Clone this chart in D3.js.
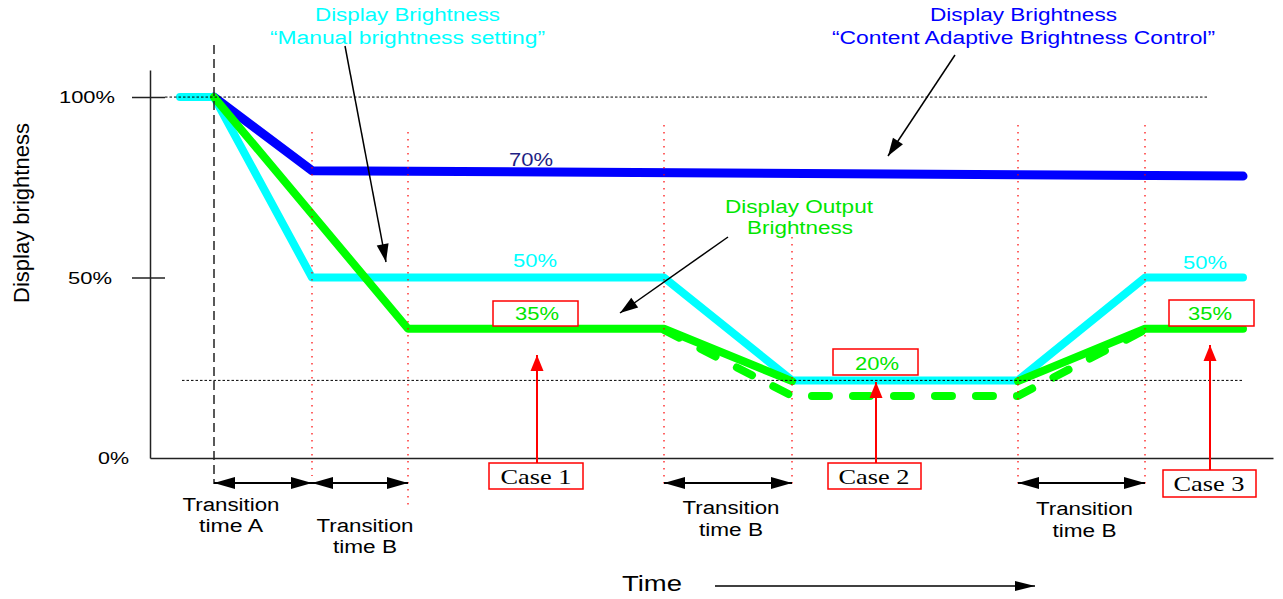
<!DOCTYPE html>
<html>
<head>
<meta charset="utf-8">
<script src="https://cdn.jsdelivr.net/npm/d3@7"></script>
<style>
    html, body { margin: 0; padding: 0; background: #fff; }
    svg { display: block; }
</style>
</head>
<body>
<svg id="chart" width="1283" height="599"></svg>
<script>
"use strict";

// time is in arbitrary units, brightness in percent
var yTicks = [0, 50, 100];
var manualBrightness = [[3, 100], [6.4, 100], [16.2, 50], [51.4, 50],
    [64.2, 21.5], [86.8, 21.5], [99.5, 50], [109.3, 50]];
var cabcBrightness = [[6.4, 100], [16.2, 79.6], [109.3, 78.1]];
var outputBrightness = [[6.4, 100], [25.8, 35.8], [51.4, 35.8],
    [64.2, 21.3], null, [86.8, 21.3], [99.5, 35.8], [109.3, 35.8]];
var outputCase2 = [[51.4, 35.5], [64.2, 17.2], [86.8, 17.2], [99.5, 35.5]];
var referenceLevels = [[1.5, 105.7, 100], [3.2, 109.2, 21.5]];
var transitionMarks = [16.2, 25.8, 51.4, 64.2, 86.8, 99.5];
var changeTime = 6.4;
var transitionSpans = [[6.4, 16.2], [16.2, 25.8], [51.4, 64.2], [86.8, 99.5]];
var transitionNames = [["Transition", "time A"], ["Transition", "time B"],
    ["Transition", "time B"], ["Transition", "time B"]];
var levelLabels = ["70%", "50%", "50%"];
var boxedLabels = ["35%", "20%", "35%"];
var caseNames = ["Case 1", "Case 2", "Case 3"];

var SANS = "'Liberation Sans', Arial, sans-serif";
var SERIF = "'Liberation Serif', 'Times New Roman', serif";
var CYAN = "#00ffff";
var BLUE = "#0000ff";
var GREEN = "#00ff00";
var GREEN_TEXT = "#00e600";
var RED = "#ff0000";

var svg = d3.select("#chart");
var x = d3.scaleLinear().domain([0, 112.3]).range([150, 1273]);
var y = d3.scaleLinear().domain([0, 107.5]).range([458, 70]);

var text = function (g, s, px, py, o) {
    return g.append("text")
        .attr("x", px)
        .attr("y", py)
        .attr("text-anchor", o.anchor || "middle")
        .attr("font-family", o.family || SANS)
        .attr("font-size", o.size || 18)
        .attr("fill", o.fill || "#000")
        .attr("textLength", o.w)
        .attr("lengthAdjust", "spacingAndGlyphs")
        .text(s);
};

var head = function (g, x1, y1, x2, y2, len, half, color) {
    var a = Math.atan2(y2 - y1, x2 - x1);
    var bx = x2 - len * Math.cos(a);
    var by = y2 - len * Math.sin(a);
    var nx = -Math.sin(a) * half;
    var ny = Math.cos(a) * half;
    g.append("path")
        .attr("d", "M" + x2 + "," + y2 + "L" + (bx + nx) + "," + (by + ny) +
                "L" + (bx - nx) + "," + (by - ny) + "Z")
        .attr("fill", color);
};

var arrow = function (g, x1, y1, x2, y2, o) {
    var len = o.len || 16;
    var half = o.half || 6;
    g.append("line")
        .attr("x1", x1).attr("y1", y1)
        .attr("x2", x2).attr("y2", y2)
        .attr("stroke", o.color || "#000")
        .attr("stroke-width", o.width || 1.5);
    head(g, x1, y1, x2, y2, len, half, o.color || "#000");
    if (o.both) {
        head(g, x2, y2, x1, y1, len, half, o.color || "#000");
    }
};

// axes
var yAxis = d3.axisLeft(y)
    .tickValues(yTicks)
    .tickSizeOuter(0)
    .tickFormat(function (d) {
        return d + "%";
    });
var yAxisGroup = svg.append("g")
    .attr("transform", "translate(" + x(0) + ",0)")
    .call(yAxis);
yAxisGroup.select(".domain").attr("stroke", "#222").attr("stroke-width", 1.5);
yAxisGroup.selectAll(".tick line")
    .attr("x1", 15)
    .attr("x2", -18)
    .attr("stroke", "#222")
    .attr("stroke-width", 1.5)
    .attr("display", function (d) {
        return d === 0 ? "none" : null;
    });
yAxisGroup.selectAll(".tick text")
    .attr("font-family", SANS)
    .attr("font-size", 17)
    .attr("fill", "#000")
    .attr("x", function (d) {
        return d === 0 ? -21 : d === 50 ? -38 : -35;
    })
    .attr("dy", function (d) {
        return d === 0 ? 5 : 5.5;
    })
    .attr("textLength", function (d) {
        return d === 100 ? 56 : d === 50 ? 44 : 31;
    })
    .attr("lengthAdjust", "spacingAndGlyphs");

var xAxis = d3.axisBottom(x).tickValues([]).tickSizeOuter(0);
svg.append("g")
    .attr("transform", "translate(0," + y(0) + ")")
    .call(xAxis)
    .select(".domain")
    .attr("stroke", "#222")
    .attr("stroke-width", 1.5);

svg.append("text")
    .attr("transform", "translate(29," + 213 + ") rotate(-90)")
    .attr("text-anchor", "middle")
    .attr("font-family", SANS)
    .attr("font-size", 22)
    .attr("textLength", 180)
    .attr("lengthAdjust", "spacingAndGlyphs")
    .text("Display brightness");

// series
var line = d3.line()
    .defined(function (d) {
        return d !== null;
    })
    .x(function (d) {
        return x(d[0]);
    })
    .y(function (d) {
        return y(d[1]);
    });

var plot = svg.append("g")
    .attr("fill", "none")
    .attr("stroke-linejoin", "round")
    .attr("stroke-linecap", "round");

plot.append("path")
    .datum(cabcBrightness)
    .attr("d", line)
    .attr("stroke", BLUE)
    .attr("stroke-width", 9);

plot.append("path")
    .datum(manualBrightness)
    .attr("d", line)
    .attr("stroke", CYAN)
    .attr("stroke-width", 8);

plot.append("path")
    .datum(outputBrightness)
    .attr("d", line)
    .attr("stroke", GREEN)
    .attr("stroke-width", 8);

plot.append("path")
    .datum(outputCase2)
    .attr("d", line)
    .attr("stroke", GREEN)
    .attr("stroke-width", 8)
    .attr("stroke-dasharray", "17 24");

// guide lines
var guides = svg.append("g");
referenceLevels.forEach(function (r) {
    guides.append("line")
        .attr("x1", x(r[0])).attr("x2", x(r[1]))
        .attr("y1", y(r[2])).attr("y2", y(r[2]))
        .attr("stroke", "#000")
        .attr("stroke-width", 1)
        .attr("stroke-dasharray", "2.5 2");
});

transitionMarks.forEach(function (t, i) {
    var top = [132, 132, 125, 237, 125, 125][i];
    var bottom = [476, 509, 485, 489, 485, 485][i];
    guides.append("line")
        .attr("x1", x(t)).attr("x2", x(t))
        .attr("y1", top).attr("y2", bottom)
        .attr("stroke", RED)
        .attr("stroke-width", 1.2)
        .attr("stroke-dasharray", "1.5 5.5");
});

guides.append("line")
    .attr("x1", x(changeTime)).attr("x2", x(changeTime))
    .attr("y1", 45).attr("y2", 484)
    .attr("stroke", "#222")
    .attr("stroke-width", 1.5)
    .attr("stroke-dasharray", "9 5");

// transition spans
var spans = svg.append("g");
var spanLabelY = [[511, 532], [532, 553], [514, 536], [515, 537]];
transitionSpans.forEach(function (s, i) {
    arrow(spans, x(s[0]), 483, x(s[1]), 483,
            {both: true, len: 21, half: 6, width: 1.8});
    var cx = (x(s[0]) + x(s[1])) / 2 + (i === 1 ? 5 : i === 0 ? -32 : 3);
    text(spans, transitionNames[i][0], cx, spanLabelY[i][0], {w: 97});
    text(spans, transitionNames[i][1], cx, spanLabelY[i][1], {w: 64});
});

// level labels
var labels = svg.append("g");
text(labels, levelLabels[0], 531, 166, {w: 44, fill: "#1f1f85"});
text(labels, levelLabels[1], 535, 267, {w: 44, fill: CYAN});
text(labels, levelLabels[2], 1205, 269, {w: 44, fill: CYAN});

var boxes = [[493, 301, 85, 25, 537, 320], [833, 349, 85, 26, 877, 370],
    [1169, 300, 85, 26, 1210, 320]];
boxes.forEach(function (b, i) {
    labels.append("rect")
        .attr("x", b[0]).attr("y", b[1])
        .attr("width", b[2]).attr("height", b[3])
        .attr("fill", "#fff")
        .attr("stroke", RED)
        .attr("stroke-width", 1.5);
    text(labels, boxedLabels[i], b[4], b[5], {w: 44, fill: GREEN_TEXT});
});

// case markers
var caseBoxes = [[489, 463, 94, 26, 536, 484, 537, 355],
    [828, 463, 93, 26, 874, 484, 876, 382],
    [1163, 470, 93, 27, 1209, 491, 1210, 345]];
caseBoxes.forEach(function (b, i) {
    arrow(labels, b[6], b[1], b[6], b[7],
            {color: RED, width: 2, len: 16, half: 6.5});
    labels.append("rect")
        .attr("x", b[0]).attr("y", b[1])
        .attr("width", b[2]).attr("height", b[3])
        .attr("fill", "#fff")
        .attr("stroke", RED)
        .attr("stroke-width", 1.5);
    text(labels, caseNames[i], b[4], b[5],
            {w: 71, size: 21, family: SERIF});
});

// annotations
var notes = svg.append("g");
text(notes, "Display Brightness", 407.5, 21, {w: 185, fill: CYAN});
text(notes, "\u201cManual brightness setting\u201d", 407.5, 44,
        {w: 275, fill: CYAN});
text(notes, "Display Brightness", 1023.5, 21, {w: 187, fill: BLUE});
text(notes, "\u201cContent Adaptive Brightness Control\u201d", 1023.5, 44,
        {w: 383, fill: BLUE});
text(notes, "Display Output", 799, 213, {w: 148, fill: GREEN_TEXT});
text(notes, "Brightness", 800, 234, {w: 106, fill: GREEN_TEXT});

arrow(notes, 345, 46, 386, 262, {len: 18, half: 6});
arrow(notes, 955, 55, 888, 156, {len: 18, half: 6});
arrow(notes, 728, 237, 620, 313, {len: 18, half: 6});

text(notes, "Time", 622, 591, {w: 60, size: 22, anchor: "start"});
arrow(notes, 715, 586, 1035, 586, {len: 20, half: 5});
</script>
</body>
</html>
